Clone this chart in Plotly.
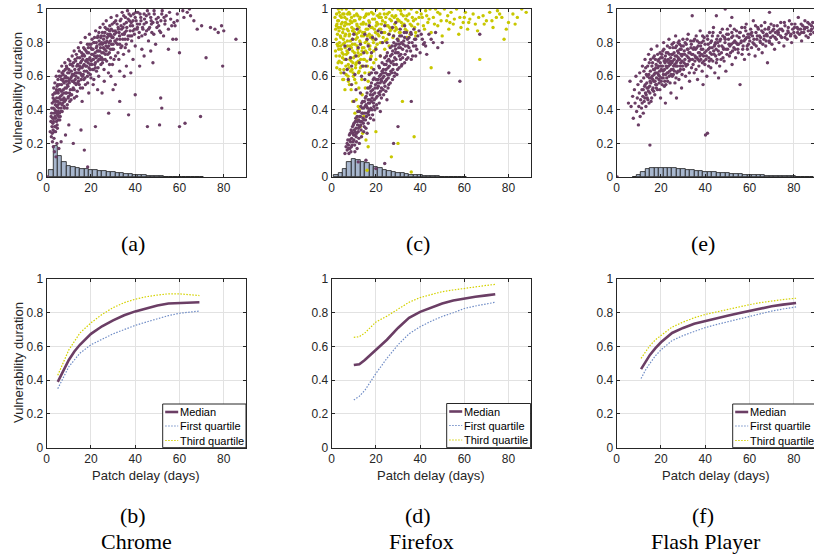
import plotly.graph_objects as go

# ---------------- data ----------------
days_ticks = [0, 20, 40, 60, 80]
dur_ticks = [0, 0.2, 0.4, 0.6, 0.8, 1]
dur_ticktext = ["0", "0.2", "0.4", "0.6", "0.8", "1"]

# histograms (bin centres, bin heights)
chrome_hist_x = [2, 4, 6, 8, 10, 12, 14, 16, 18, 20, 22, 24, 26, 28, 30, 32, 34, 36, 38, 40,
                 42, 44, 46, 48, 50, 52, 54, 56, 58, 60, 62, 64, 66, 68, 70]
chrome_hist_y = [0.042, 0.186, 0.125, 0.087, 0.068, 0.058, 0.053, 0.049, 0.046, 0.043, 0.039,
                 0.036, 0.033, 0.030, 0.027, 0.024, 0.021, 0.018, 0.015, 0.013, 0.011, 0.009,
                 0.007, 0.006, 0.005, 0.004, 0.003, 0.003, 0.002, 0.002, 0.002, 0.001, 0.001,
                 0.001, 0.001]
firefox_hist_x = [2, 4, 6, 8, 10, 12, 14, 16, 18, 20, 22, 24, 26, 28, 30, 32, 34, 36, 38, 40,
                  42, 44, 46, 48, 50, 52, 54, 56, 58, 60]
firefox_hist_y = [0.010, 0.025, 0.045, 0.090, 0.105, 0.103, 0.092, 0.081, 0.071, 0.061, 0.052,
                  0.044, 0.037, 0.031, 0.026, 0.021, 0.017, 0.014, 0.011, 0.009, 0.007, 0.006,
                  0.005, 0.004, 0.003, 0.002, 0.002, 0.001, 0.001, 0.001]
flash_hist_x = [8, 10, 12, 14, 16, 18, 20, 22, 24, 26, 28, 30, 32, 34, 36, 38, 40, 42, 44, 46,
                48, 50, 52, 54, 56, 58, 60, 62, 64, 66, 68, 70, 72, 74, 76, 78, 80, 82, 84, 86, 88]
flash_hist_y = [0.002, 0.010, 0.030, 0.045, 0.052, 0.055, 0.056, 0.055, 0.053, 0.051, 0.049,
                0.046, 0.043, 0.040, 0.037, 0.034, 0.031, 0.029, 0.027, 0.025, 0.023, 0.021,
                0.019, 0.017, 0.015, 0.014, 0.012, 0.011, 0.010, 0.009, 0.008, 0.007, 0.006,
                0.005, 0.005, 0.004, 0.004, 0.003, 0.003, 0.002, 0.002]

# scatter clouds (patch delay, vulnerability duration)
chrome_pts = [
    (1.6,0.27),(1.9,0.33),(2.1,0.24),(2.2,0.38),(2.4,0.30),(2.5,0.44),(2.6,0.21),(2.7,0.35),(2.8,0.49),(2.9,0.28),
    (3.0,0.41),(3.1,0.33),(3.2,0.53),(3.3,0.23),(3.4,0.38),(3.5,0.46),(3.6,0.30),(3.7,0.56),(3.8,0.36),(3.9,0.43),
    (4.0,0.27),(4.1,0.50),(4.2,0.39),(4.3,0.60),(4.4,0.33),(4.5,0.47),(4.6,0.42),(4.7,0.54),(4.8,0.29),(4.9,0.37),
    (5.0,0.45),(5.1,0.58),(5.2,0.50),(5.3,0.34),(5.4,0.41),(5.5,0.63),(5.6,0.47),(5.7,0.38),(5.8,0.55),(5.9,0.44),
    (6.0,0.52),(6.1,0.36),(6.3,0.60),(6.4,0.46),(6.5,0.41),(6.7,0.55),(6.8,0.66),(6.9,0.49),(7.0,0.39),(7.2,0.58),
    (7.3,0.44),(7.5,0.52),(7.6,0.63),(7.8,0.47),(7.9,0.56),(8.0,0.41),(8.2,0.68),(8.3,0.53),(8.5,0.60),(8.6,0.46),
    (8.8,0.57),(9.0,0.50),(9.1,0.65),(9.3,0.43),(9.4,0.59),(9.6,0.54),(9.8,0.70),(9.9,0.48),(10.1,0.62),(10.2,0.56),
    (10.4,0.45),(10.6,0.67),(10.7,0.52),(10.9,0.59),(11.1,0.63),(11.3,0.49),(11.5,0.72),(11.6,0.57),(11.8,0.66),(12.0,0.53),
    (12.2,0.61),(12.4,0.75),(12.5,0.47),(12.7,0.64),(12.9,0.58),(13.1,0.69),(13.3,0.55),(13.4,0.73),(13.6,0.62),(13.8,0.51),
    (14.0,0.67),(14.2,0.59),(14.3,0.77),(14.5,0.64),(14.7,0.55),(14.9,0.71),(15.1,0.62),(15.3,0.68),(15.4,0.80),(15.6,0.58),
    (15.8,0.74),(16.0,0.65),(16.2,0.53),(16.3,0.70),(16.5,0.61),(16.7,0.77),(16.9,0.67),(17.1,0.72),(17.3,0.59),(17.4,0.83),
    (17.6,0.66),(17.8,0.75),(18.0,0.63),(18.2,0.70),(18.4,0.79),(18.5,0.56),(18.7,0.68),(18.9,0.74),(19.1,0.65),(19.3,0.85),
    (19.5,0.71),(19.7,0.61),(19.9,0.77),(20.1,0.69),(20.3,0.73),(20.5,0.82),(20.7,0.64),(20.9,0.76),(21.1,0.70),(21.3,0.58),
    (21.5,0.80),(21.7,0.67),(21.9,0.74),(22.1,0.87),(22.3,0.71),(22.5,0.63),(22.7,0.78),(22.9,0.83),(23.1,0.69),(23.3,0.75),
    (23.5,0.60),(23.7,0.81),(23.9,0.72),(24.1,0.89),(24.3,0.77),(24.5,0.67),(24.7,0.84),(24.9,0.74),(25.1,0.79),(25.3,0.70),
    (25.5,0.91),(25.7,0.82),(25.9,0.64),(26.1,0.76),(26.3,0.86),(26.5,0.73),(26.7,0.80),(26.9,0.93),(27.1,0.69),(27.3,0.83),
    (27.5,0.77),(27.7,0.88),(27.9,0.62),(28.1,0.80),(28.3,0.74),(28.5,0.90),(28.7,0.85),(28.9,0.71),(29.1,0.95),(29.3,0.79),
    (29.5,0.83),(29.7,0.67),(29.9,0.87),(30.2,0.76),(30.5,0.92),(30.8,0.81),(31.1,0.72),(31.4,0.86),(31.7,0.96),(32.0,0.79),
    (32.3,0.89),(32.6,0.70),(32.9,0.84),(33.2,0.93),(33.5,0.77),(33.8,0.88),(34.1,0.98),(34.4,0.82),(34.7,0.73),(35.0,0.91),
    (35.3,0.86),(35.6,0.95),(35.9,0.79),(36.2,0.89),(36.5,0.99),(36.8,0.84),(37.1,0.75),(37.4,0.93),(37.7,0.87),(38.0,0.96),
    (38.4,0.81),(38.8,0.90),(39.2,0.97),(39.6,0.85),(40.0,0.78),(40.4,0.93),(40.8,0.88),(41.2,0.98),(41.6,0.83),(42.0,0.91),
    (42.5,0.95),(43.0,0.76),(43.5,0.88),(44.0,0.97),(44.5,0.85),(45.0,0.92),(45.5,0.99),(46.0,0.81),(46.5,0.89),(47.0,0.95),
    (47.5,0.86),(48.0,0.92),(48.6,0.97),(49.2,0.79),(49.8,0.89),(50.4,0.95),(51.0,0.87),(51.6,0.93),(52.2,0.99),(52.8,0.84),
    (53.4,0.91),(54.0,0.96),(55.0,0.88),(56.0,0.94),(57.0,0.82),(58.0,0.90),(59.0,0.97),(60.0,0.74),
    (61.5,0.99),(63.5,0.98),(65.0,0.96),(66.5,0.93),(68.0,0.88),(70.0,0.90),(72.0,0.71),(74.0,0.89),(76.0,0.88),(77.5,0.86),
    (79.0,0.90),(79.5,0.66),(80.0,0.87),(85.5,0.82),(58.5,0.82),(45.5,0.30),(51.0,0.31),(52.0,0.41),(51.5,0.47),(60.0,0.30),
    (62.5,0.32),(69.5,0.36),(37.0,0.37),(40.0,0.49),(28.0,0.38),(17.0,0.16),(12.0,0.20),(18.5,0.06),(0.3,0.0),(22.0,0.30),
    (33.0,0.45),(15.5,0.28),(10.0,0.31),(8.5,0.25),(6.5,0.21),(25.0,0.50),(31.0,0.55),(35.0,0.60),(42.0,0.66),(55.0,0.76),
]
chrome_core_pts = [
    (2.3,0.41),(2.8,0.32),(3.2,0.45),(3.4,0.27),(3.7,0.40),(4.1,0.35),(4.4,0.52),(4.7,0.31),(5.0,0.55),(5.2,0.39),
    (5.6,0.52),(5.9,0.34),(6.2,0.48),(6.6,0.58),(6.9,0.43),(7.4,0.61),(7.7,0.50),(8.1,0.45),(8.4,0.64),(8.9,0.53),
    (9.2,0.41),(9.5,0.62),(9.9,0.57),(10.3,0.50),(10.5,0.69),(11.0,0.46),(11.4,0.60),(11.7,0.52),(12.1,0.68),(12.6,0.56),
    (13.0,0.62),(13.5,0.48),(13.9,0.71),(14.4,0.57),(14.8,0.66),(15.2,0.53),(15.7,0.69),(16.1,0.60),(16.6,0.73),(17.0,0.63),
    (17.5,0.55),(17.9,0.69),(18.3,0.74),(18.8,0.62),(19.2,0.79),(19.6,0.67),(20.0,0.59),(20.4,0.76),(20.8,0.70),(21.2,0.64),
    (21.6,0.83),(22.0,0.68),(22.4,0.77),(22.8,0.72),(23.2,0.65),(23.6,0.86),(24.0,0.75),(24.4,0.70),(24.8,0.80),(25.2,0.68),
    (25.6,0.77),(26.0,0.84),(26.4,0.70),(26.8,0.78),(27.2,0.88),(27.6,0.73),(28.0,0.84),(28.4,0.67),(28.8,0.81),(29.2,0.88),
    (29.6,0.76),(30.0,0.83),(30.4,0.70),(30.9,0.87),(31.3,0.80),(31.8,0.91),(32.2,0.74),(32.7,0.86),(33.1,0.82),(33.6,0.94),
    (34.0,0.78),(34.5,0.89),(35.0,0.85),(35.5,0.77),(36.0,0.92),(36.6,0.82),(37.2,0.97),(37.8,0.90),(38.4,0.84),(39.0,0.93),
    (39.7,0.88),(40.3,0.98),(41.0,0.91),(41.8,0.86),(42.6,0.93),(43.3,0.89),(44.2,0.94),(45.1,0.87),(46.2,0.97),(47.3,0.91),
    (48.4,0.85),(49.5,0.94),(50.6,0.90),(52.0,0.97),(53.5,0.93),(55.5,0.98),(57.5,0.92),
    (3.5,0.15),(4.2,0.12),(3.0,0.18),(4.6,0.20),(5.5,0.17),
    (2.0,0.36),(2.5,0.26),(2.9,0.47),(3.3,0.35),(3.6,0.50),(3.9,0.30),(4.2,0.45),(4.5,0.38),(4.8,0.51),(5.1,0.43),
    (5.4,0.36),(5.7,0.60),(6.0,0.44),(6.3,0.39),(6.6,0.51),(6.9,0.62),(7.2,0.46),(7.5,0.57),(7.9,0.42),(8.2,0.59),
    (8.6,0.50),(8.9,0.66),(9.3,0.55),(9.7,0.47),(10.0,0.64),(10.4,0.58),(10.8,0.49),(11.2,0.67),(11.6,0.61),(12.0,0.57),
    (12.4,0.52),(12.8,0.70),(13.2,0.60),(13.6,0.66),(14.0,0.56),(14.4,0.62),(14.8,0.75),(15.2,0.65),(15.6,0.61),(16.0,0.72),
    (16.4,0.66),(16.8,0.58),(17.2,0.76),(17.6,0.69),(18.0,0.66),(18.4,0.60),(18.8,0.77),(19.2,0.70),(19.6,0.64),(20.0,0.79),
    (20.4,0.67),(20.8,0.73),(21.2,0.80),(21.6,0.72),(22.0,0.65),(22.4,0.80),(22.8,0.75),(23.2,0.84),(23.6,0.70),(24.0,0.79),
    (24.4,0.83),(24.8,0.71),(25.2,0.86),(25.6,0.74),(26.0,0.80),(26.4,0.89),(26.8,0.75),(27.2,0.81),(27.6,0.85),(28.0,0.78),
    (28.4,0.87),(28.8,0.76),(29.2,0.84),(29.6,0.91),(30.0,0.79),(30.6,0.85),(31.2,0.93),(31.8,0.82),(32.4,0.88),(33.0,0.79),
    (33.6,0.90),(34.2,0.85),(34.8,0.96),(35.4,0.82),(36.0,0.87),(36.8,0.94),(37.6,0.84),(38.2,0.92),(39.0,0.87),(40.0,0.95),
    (41.0,0.89),(42.2,0.97),(43.0,0.84),(44.0,0.91),(45.0,0.96),(46.0,0.88),(47.2,0.93),(48.5,0.99),(50.0,0.92),(51.5,0.86),
    (53.0,0.95),(56.5,0.90),(59.0,0.93),(62.0,0.95),(64.5,1.0),
    (16.0,0.45),(19.0,0.50),(23.0,0.52),(26.0,0.57),(29.0,0.60),(33.0,0.63),(36.0,0.66),(39.0,0.70),(44.0,0.72),(47.0,0.75),
    (21.0,0.55),(30.0,0.52),(38.0,0.62),(48.0,0.68),
]

firefox_purple_pts = [
    (6.0,0.14),(6.5,0.18),(7.0,0.16),(7.3,0.22),(7.6,0.19),(8.0,0.25),(8.2,0.17),(8.5,0.21),(8.8,0.28),(9.0,0.23),
    (9.2,0.19),(9.5,0.26),(9.8,0.31),(10.0,0.22),(10.2,0.28),(10.5,0.25),(10.7,0.33),(11.0,0.29),(11.2,0.21),(11.5,0.36),
    (11.7,0.31),(12.0,0.27),(12.2,0.34),(12.5,0.39),(12.7,0.30),(13.0,0.36),(13.2,0.42),(13.5,0.33),(13.7,0.38),(14.0,0.45),
    (14.2,0.35),(14.5,0.41),(14.7,0.30),(15.0,0.38),(15.2,0.47),(15.5,0.43),(15.7,0.36),(16.0,0.50),(16.2,0.41),(16.5,0.46),
    (16.7,0.39),(17.0,0.53),(17.2,0.44),(17.5,0.49),(17.7,0.41),(18.0,0.56),(18.3,0.47),(18.6,0.52),(18.9,0.44),(19.2,0.59),
    (19.5,0.50),(19.8,0.55),(20.1,0.47),(20.4,0.62),(20.7,0.53),(21.0,0.58),(21.3,0.50),(21.6,0.65),(21.9,0.56),(22.2,0.61),
    (22.5,0.53),(22.8,0.68),(23.1,0.59),(23.4,0.64),(23.7,0.56),(24.0,0.71),(24.3,0.62),(24.6,0.67),(24.9,0.58),(25.2,0.74),
    (25.5,0.65),(25.8,0.70),(26.1,0.61),(26.5,0.77),(26.9,0.68),(27.3,0.73),(27.7,0.64),(28.1,0.80),(28.5,0.71),(28.9,0.76),
    (29.3,0.67),(29.7,0.82),(30.1,0.74),(30.6,0.79),(31.1,0.70),(31.6,0.84),(32.1,0.76),(32.6,0.81),(33.2,0.73),(33.8,0.86),
    (34.4,0.78),(35.0,0.83),(35.7,0.75),(36.4,0.80),(37.2,0.88),(38.0,0.78),(39.0,0.84),(40.0,0.74),(41.0,0.82),(42.5,0.78),
    (44.0,0.85),(46.0,0.80),(48.0,0.77),
    (5.5,0.62),(6.5,0.70),(7.5,0.58),(8.0,0.76),(9.0,0.66),(9.5,0.82),(10.5,0.61),(11.0,0.72),(11.5,0.88),(12.5,0.68),
    (13.0,0.79),(13.5,0.60),(14.5,0.74),(15.0,0.85),(15.5,0.66),(16.5,0.78),(17.0,0.90),(17.5,0.70),(18.5,0.83),(19.0,0.64),
    (20.0,0.76),(21.0,0.87),(22.0,0.72),(23.0,0.80),(24.0,0.90),(26.0,0.85),(27.5,0.89),(29.0,0.92),(31.0,0.88),(13.0,0.50),
    (10.0,0.45),(18.0,0.62),
    (53.0,0.62),(58.0,0.57),(67.0,0.85),(20.0,0.05),(15.5,0.10),(24.0,0.08),(30.0,0.30),(36.0,0.45),(28.0,0.20),(12.0,0.09),
]
firefox_purple_core_pts = [
    (7.0,0.20),(7.8,0.14),(8.4,0.26),(8.9,0.18),(9.4,0.30),(9.9,0.25),(10.4,0.19),(10.9,0.35),(11.3,0.26),(11.8,0.39),
    (12.3,0.23),(12.8,0.33),(13.3,0.28),(13.8,0.41),(14.3,0.32),(14.8,0.45),(15.3,0.34),(15.8,0.42),(16.3,0.53),(16.8,0.37),
    (17.3,0.46),(17.8,0.51),(18.3,0.40),(18.8,0.58),(19.3,0.46),(19.8,0.62),(20.3,0.43),(20.8,0.56),(21.3,0.66),(21.8,0.49),
    (22.3,0.58),(22.8,0.63),(23.3,0.52),(23.8,0.67),(24.3,0.57),(24.8,0.72),(25.3,0.61),(25.8,0.55),(26.3,0.69),(26.8,0.63),
    (27.3,0.78),(27.8,0.69),(28.3,0.60),(28.8,0.74),(29.3,0.79),(29.8,0.64),(30.3,0.77),(30.8,0.84),(31.3,0.73),(31.8,0.67),
    (32.3,0.79),(32.8,0.86),(33.3,0.78),(33.8,0.70),(34.3,0.82),(35.0,0.77),(35.8,0.86),(36.6,0.72),(37.5,0.82),(38.5,0.76),
    (39.5,0.87),(41.5,0.79),(43.0,0.73),(45.0,0.82),(47.0,0.86),(50.0,0.80),
    (6.0,0.78),(7.0,0.64),(8.5,0.71),(10.0,0.85),(12.0,0.77),(14.0,0.66),(16.0,0.82),(18.0,0.74),(20.0,0.82),(22.5,0.86),
    (25.0,0.80),(28.0,0.84),(33.0,0.90),(9.0,0.55),(11.0,0.52),(15.0,0.58),(17.0,0.61),
    (7.5,0.17),(8.1,0.22),(8.7,0.15),(9.1,0.27),(9.7,0.21),(10.1,0.32),(10.6,0.27),(11.1,0.24),(11.6,0.33),(12.1,0.29),
    (12.6,0.36),(13.1,0.31),(13.6,0.44),(14.1,0.38),(14.6,0.34),(15.1,0.42),(15.6,0.48),(16.1,0.38),(16.6,0.44),(17.1,0.40),
    (17.6,0.54),(18.1,0.45),(18.6,0.49),(19.1,0.42),(19.6,0.53),(20.1,0.58),(20.6,0.48),(21.1,0.54),(21.6,0.60),(22.1,0.51),
    (22.6,0.57),(23.1,0.62),(23.6,0.60),(24.1,0.54),(24.6,0.64),(25.1,0.69),(25.6,0.59),(26.1,0.66),(26.6,0.72),(27.1,0.62),
    (27.6,0.75),(28.1,0.67),(28.6,0.78),(29.1,0.70),(29.6,0.74),(30.1,0.81),(30.6,0.72),(31.1,0.77),(31.6,0.80),(32.1,0.71),
    (33.0,0.83),(34.0,0.75),(35.0,0.80),(36.0,0.85),(37.0,0.78),(38.0,0.82),(40.5,0.85),(42.0,0.80),
    (12.5,0.20),(13.5,0.24),(14.5,0.27),(15.5,0.29),(16.5,0.32),(17.5,0.35),(18.5,0.37),(19.5,0.40),(20.5,0.41),(21.5,0.44),
    (22.5,0.47),(23.5,0.49),(24.5,0.51),(25.5,0.53),(26.5,0.56),(27.5,0.58),(28.5,0.62),(29.5,0.61),(30.5,0.65),(31.5,0.66),
    (33.0,0.68),(34.5,0.71),(36.0,0.70),(38.0,0.72),(16.0,0.26),(19.0,0.34),(22.0,0.39),(25.0,0.46),(11.5,0.17),(10.5,0.15),
]

firefox_yellow_pts = [
    (1.5,0.95),(1.8,0.88),(2.0,0.82),(2.2,0.97),(2.4,0.91),(2.6,0.85),(2.8,0.78),(3.0,1.0),(3.1,0.93),(3.3,0.87),
    (3.5,0.80),(3.6,0.72),(3.8,0.96),(4.0,0.89),(4.1,0.83),(4.3,0.76),(4.5,0.68),(4.6,1.0),(4.8,0.92),(5.0,0.86),
    (5.1,0.79),(5.3,0.73),(5.5,0.64),(5.6,0.97),(5.8,0.90),(6.0,0.84),(6.1,0.77),(6.3,0.70),(6.5,0.61),(6.6,1.0),
    (6.8,0.94),(7.0,0.88),(7.1,0.81),(7.3,0.74),(7.5,0.67),(7.6,0.57),(7.8,0.98),(8.0,0.91),(8.1,0.85),(8.3,0.78),
    (8.5,0.71),(8.6,0.63),(8.8,0.52),(9.0,0.95),(9.1,0.89),(9.3,0.82),(9.5,0.75),(9.6,0.68),(9.8,0.60),(10.0,1.0),
    (10.1,0.93),(10.3,0.86),(10.5,0.79),(10.6,0.72),(10.8,0.65),(11.0,0.56),(11.1,0.46),(11.3,0.97),(11.5,0.90),(11.6,0.83),
    (11.8,0.76),(12.0,0.69),(12.1,0.62),(12.3,0.53),(12.5,0.40),(12.6,0.94),(12.8,0.87),(13.0,0.80),(13.2,0.73),(13.4,0.66),
    (13.6,0.58),(13.8,0.49),(14.0,1.0),(14.2,0.91),(14.4,0.84),(14.6,0.77),(14.8,0.70),(15.0,0.62),(15.2,0.53),(15.4,0.96),
    (15.6,0.88),(15.8,0.81),(16.0,0.74),(16.2,0.66),(16.5,0.57),(16.8,0.93),(17.0,0.85),(17.3,0.78),(17.6,0.71),(18.0,0.98),
    (18.3,0.89),(18.6,0.82),(19.0,0.75),(19.4,0.94),(19.8,0.86),(20.2,1.0),(20.6,0.79),(21.0,0.91),(21.4,0.84),(21.8,0.97),
    (22.2,0.88),(22.6,0.80),(23.0,0.93),(23.5,1.0),(24.0,0.86),(24.5,0.95),(25.0,0.82),(25.5,0.90),(26.0,0.98),(26.5,0.87),
    (27.0,0.93),(27.5,1.0),(28.0,0.84),(28.5,0.91),(29.0,0.96),(29.5,0.88),(30.0,1.0),(30.5,0.93),(31.0,0.86),(31.5,0.97),
    (32.0,0.90),(33.0,1.0),(33.5,0.94),(34.0,0.87),(35.0,0.97),(35.5,0.91),(36.0,1.0),(37.0,0.93),(38.0,0.86),(38.5,0.98),
    (39.0,0.91),(40.0,1.0),(41.0,0.95),(42.0,0.88),(42.5,0.99),(43.5,0.92),(44.5,1.0),(45.0,0.86),(46.0,0.95),(47.0,1.0),
    (48.0,0.90),(49.0,0.97),(50.0,0.84),(51.0,1.0),(52.0,0.93),(53.0,0.88),(54.0,0.98),(55.0,0.91),(56.5,1.0),(57.5,0.85),
    (58.0,0.95),(59.5,0.92),(60.5,0.98),(61.5,0.88),(62.5,0.94),(64.0,0.97),(65.0,0.91),(66.0,0.87),(67.0,0.70),(68.5,0.96),
    (70.0,0.93),(71.5,0.98),(73.0,0.89),(74.5,0.95),(76.0,0.97),(78.0,0.82),(79.0,0.88),(80.0,0.92),(82.0,0.97),(84.0,0.95),
    (86.0,1.0),(88.0,0.98),
    (18.0,0.65),(20.0,0.70),(22.0,0.72),(24.0,0.76),(26.0,0.78),(30.0,0.82),(34.0,0.83),(38.0,0.84),(17.0,0.62),(19.0,0.68),
    (9.5,0.45),(10.5,0.38),(11.5,0.34),(13.0,0.30),(14.0,0.26),(15.5,0.22),(16.5,0.18),(12.0,0.42),(14.5,0.36),(8.0,0.55),
    (6.0,0.52),(5.0,0.58),
    (36.0,0.03),(37.3,0.24),(27.0,0.12),(16.0,0.04),(30.0,0.20),(32.0,0.45),(45.0,0.65),(20.0,0.27),
]
firefox_yellow_core_pts = [
    (2.0,0.72),(2.3,0.65),(2.7,0.93),(3.2,0.76),(3.4,0.69),(3.9,0.84),(4.2,0.62),(4.4,0.95),(4.9,0.71),(5.2,0.88),
    (5.4,0.58),(5.9,0.80),(6.2,0.92),(6.4,0.66),(6.9,0.75),(7.2,0.97),(7.4,0.60),(7.9,0.84),(8.2,0.70),(8.4,0.93),
    (8.9,0.77),(9.2,0.64),(9.4,0.87),(9.9,0.71),(10.2,0.96),(10.4,0.58),(10.9,0.82),(11.2,0.68),(11.4,0.91),(11.9,0.74),
    (12.2,0.86),(12.4,0.63),(12.9,0.95),(13.1,0.70),(13.5,0.84),(13.9,0.77),(14.3,0.92),(14.5,0.66),(14.9,0.86),(15.3,0.75),
    (15.7,0.97),(16.1,0.84),(16.6,0.79),(17.1,0.92),(17.5,0.83),(17.9,0.72),(18.5,0.94),(18.9,0.80),(19.3,0.88),(19.9,0.77),
    (20.4,0.92),(20.9,0.85),(21.5,0.95),(22.0,0.80),(22.5,0.91),(23.2,0.86),(23.8,0.97),(24.3,0.81),(25.0,0.90),(25.7,0.85),
    (26.3,0.94),(27.0,0.88),(27.7,0.83),(28.3,0.95),(29.0,0.89),(29.8,0.94),(30.6,0.86),(31.5,0.92),(32.4,0.96),(33.3,0.88),
    (34.5,0.93),(35.5,0.85),(36.5,0.95),(37.5,0.89),(39.5,0.95),(41.5,0.90),(43.0,0.96),(46.5,0.91),(49.5,0.93),(52.5,0.96),
    (55.5,0.94),(58.5,0.89),(62.0,0.92),(66.5,0.95),(72.5,0.93),(77.0,0.95),(83.0,0.91),
    (1.7,0.75),(2.1,0.90),(2.5,0.79),(2.9,0.68),(3.0,0.89),(3.4,0.98),(3.7,0.64),(4.0,0.78),(4.3,0.91),(4.7,0.74),
    (5.0,0.97),(5.3,0.82),(5.7,0.70),(5.9,0.95),(6.3,0.85),(6.6,0.73),(6.9,0.91),(7.2,0.78),(7.5,0.87),(7.8,0.65),
    (8.2,0.97),(8.5,0.81),(8.8,0.69),(9.1,0.92),(9.4,0.79),(9.7,0.62),(10.0,0.88),(10.3,0.74),(10.6,0.93),(10.9,0.67),
    (11.2,0.85),(11.5,0.78),(11.8,0.96),(12.1,0.72),(12.4,0.89),(12.7,0.81),(13.0,0.65),(13.3,0.91),(13.7,0.75),(14.0,0.86),
    (14.4,0.70),(14.7,0.95),(15.1,0.80),(15.5,0.91),(15.9,0.69),(16.3,0.88),(16.7,0.97),(17.2,0.76),(17.7,0.89),(18.2,0.84),
    (18.8,0.97),(19.5,0.82),(20.1,0.90),(20.8,0.96),(21.6,0.88),(22.4,0.95),(23.3,0.83),(24.2,0.92),(25.2,0.97),(26.2,0.89),
    (27.3,0.96),(28.6,0.87),(30.0,0.93),(31.2,0.99),(32.7,0.91),(34.0,0.96),(36.2,0.90),(38.0,0.94),(40.5,0.97),(44.0,0.94),
    (48.0,0.98),(53.5,0.92),(60.0,0.95),(69.0,0.91),(75.0,0.99),
]

flash_pts = [
    (5.3,0.44),(6.0,0.57),(6.5,0.42),(7.2,0.48),(7.5,0.35),(8.0,0.52),(8.3,0.44),(8.7,0.60),(9.0,0.39),(9.3,0.47),
    (9.6,0.55),(9.8,0.31),(10.0,0.42),(10.2,0.50),(10.4,0.62),(10.6,0.36),(10.8,0.46),(11.0,0.57),(11.2,0.41),(11.4,0.52),
    (11.6,0.66),(11.8,0.48),(12.0,0.38),(12.2,0.59),(12.4,0.45),(12.6,0.54),(12.8,0.70),(13.0,0.50),(13.2,0.42),(13.4,0.61),
    (13.6,0.56),(13.8,0.47),(14.0,0.66),(14.2,0.53),(14.4,0.73),(14.6,0.44),(14.8,0.59),(15.0,0.50),(15.2,0.63),(15.4,0.56),
    (15.6,0.76),(15.8,0.47),(16.0,0.60),(16.2,0.68),(16.4,0.53),(16.6,0.64),(16.8,0.57),(17.0,0.72),(17.2,0.49),(17.4,0.62),
    (17.6,0.55),(17.8,0.67),(18.0,0.59),(18.2,0.78),(18.4,0.52),(18.6,0.65),(18.8,0.61),(19.0,0.70),(19.2,0.56),(19.4,0.63),
    (19.6,0.74),(19.8,0.47),(20.0,0.66),(20.3,0.59),(20.6,0.71),(20.9,0.63),(21.2,0.80),(21.5,0.54),(21.8,0.68),(22.1,0.61),
    (22.4,0.74),(22.7,0.65),(23.0,0.57),(23.3,0.70),(23.6,0.82),(23.9,0.63),(24.2,0.67),(24.5,0.50),(24.8,0.73),(25.1,0.60),
    (25.4,0.77),(25.7,0.66),(26.0,0.70),(26.3,0.56),(26.6,0.84),(26.9,0.68),(27.2,0.62),(27.5,0.75),(27.8,0.71),(28.1,0.58),
    (28.4,0.79),(28.7,0.66),(29.0,0.73),(29.3,0.53),(29.6,0.69),(29.9,0.82),(30.2,0.64),(30.5,0.75),(30.8,0.70),(31.1,0.60),
    (31.4,0.79),(31.7,0.72),(32.0,0.67),(32.3,0.85),(32.6,0.74),(32.9,0.57),(33.2,0.70),(33.5,0.77),(33.8,0.65),(34.1,0.96),
    (34.4,0.73),(34.7,0.81),(35.0,0.62),(35.3,0.69),(35.6,0.76),(35.9,0.84),(36.2,0.71),(36.5,0.58),(36.8,0.78),(37.1,0.66),
    (37.4,0.74),(37.7,0.87),(38.0,0.70),(38.3,0.80),(38.6,0.63),(38.9,0.76),(39.2,0.72),(39.5,0.83),(39.8,0.67),(40.1,0.25),
    (41.0,0.26),(40.4,0.75),(40.7,0.60),(41.3,0.79),(41.6,0.71),(41.9,0.86),(42.2,0.74),(42.5,0.65),(42.8,0.81),(43.1,0.77),
    (43.4,0.69),(43.7,0.89),(44.0,0.73),(44.3,0.62),(44.6,0.80),(44.9,0.76),(45.3,0.70),(45.7,0.84),(46.1,0.78),(46.5,0.66),
    (46.9,0.82),(47.3,0.74),(47.7,0.88),(48.1,0.77),(48.5,0.69),(48.9,0.80),(49.3,0.63),(49.7,0.85),(50.1,0.76),(50.5,0.82),
    (50.9,0.72),(51.3,0.90),(51.7,0.79),(52.1,0.67),(52.5,0.84),(52.9,0.77),(53.3,0.81),(53.7,0.71),(54.1,0.87),(54.5,0.79),
    (54.9,0.74),(55.3,0.83),(55.7,0.55),(56.1,0.80),(56.5,0.89),(56.9,0.76),(57.3,0.84),(57.7,0.70),(58.1,0.82),(58.5,0.91),
    (58.9,0.78),(59.3,0.85),(59.7,0.73),(60.1,0.81),(60.5,0.88),(60.9,0.77),(61.3,0.84),(61.7,0.93),(62.1,0.79),(62.5,0.72),
    (62.9,0.86),(63.3,0.82),(63.7,0.89),(64.1,0.76),(64.5,0.84),(64.9,0.80),(65.3,0.90),(65.7,0.74),(66.1,0.86),(66.5,0.82),
    (66.9,0.92),(67.3,0.78),(67.7,0.85),(68.1,0.68),(68.5,0.88),(68.9,0.81),(69.3,0.86),(69.7,0.91),(70.1,0.79),(70.5,0.84),
    (70.9,0.88),(71.3,0.76),(71.7,0.86),(72.1,0.82),(72.5,0.90),(72.9,0.85),(73.3,0.80),(73.7,0.88),(74.1,0.92),(74.5,0.83),
    (75.0,0.87),(75.5,0.78),(76.0,0.90),(76.5,0.85),(77.0,0.82),(77.5,0.89),(78.0,0.93),(78.5,0.84),(79.0,0.80),(79.5,0.88),
    (80.0,0.86),(80.5,0.91),(81.0,0.83),(81.5,0.89),(82.0,0.95),(82.5,0.85),(83.0,0.88),(83.5,0.81),(84.0,0.90),(84.5,0.86),
    (85.0,0.93),(85.5,0.84),(86.0,0.89),(86.5,0.87),(87.0,0.91),(87.5,0.85),(88.0,0.88),(88.5,0.92),(89.0,0.86),
    (15.0,0.19),(0.2,0.0),(49.0,1.0),(69.0,0.98),(52.0,0.95),(39.0,0.55),(46.0,0.59),(22.0,0.44),(27.0,0.47),(45.0,0.96),
]
flash_core_pts = [
    (11.5,0.44),(12.3,0.63),(12.9,0.55),(13.3,0.49),(13.9,0.60),(14.3,0.51),(14.7,0.68),(15.1,0.57),(15.5,0.45),(15.9,0.66),
    (16.3,0.58),(16.7,0.51),(17.1,0.64),(17.5,0.70),(17.9,0.53),(18.3,0.62),(18.7,0.69),(19.1,0.58),(19.5,0.52),(19.9,0.71),
    (20.2,0.64),(20.5,0.55),(20.8,0.75),(21.1,0.61),(21.4,0.69),(21.7,0.57),(22.0,0.72),(22.3,0.66),(22.6,0.59),(22.9,0.78),
    (23.2,0.62),(23.5,0.68),(23.8,0.73),(24.1,0.56),(24.4,0.71),(24.7,0.64),(25.0,0.79),(25.3,0.69),(25.6,0.61),(25.9,0.74),
    (26.2,0.67),(26.5,0.77),(26.8,0.59),(27.1,0.72),(27.4,0.66),(27.7,0.80),(28.0,0.70),(28.3,0.63),(28.6,0.76),(28.9,0.68),
    (29.2,0.78),(29.5,0.61),(29.8,0.73),(30.4,0.68),(30.9,0.80),(31.3,0.66),(31.9,0.76),(32.4,0.71),(32.8,0.62),(33.4,0.81),
    (33.9,0.73),(34.5,0.67),(34.9,0.77),(35.4,0.72),(35.8,0.64),(36.4,0.81),(36.9,0.74),(37.3,0.69),(37.9,0.78),(38.4,0.73),
    (38.8,0.84),(39.4,0.69),(39.9,0.79),(40.5,0.72),(41.1,0.82),(41.5,0.66),(42.0,0.77),(42.6,0.70),(43.2,0.84),(43.8,0.75),
    (44.4,0.79),(45.0,0.68),(45.6,0.80),(46.3,0.73),(46.8,0.86),(47.5,0.78),(48.0,0.71),(48.7,0.83),(49.4,0.76),(50.0,0.88),
    (50.7,0.79),(51.4,0.74),(52.0,0.86),(52.7,0.80),(53.5,0.76),(54.3,0.84),(55.0,0.79),(55.8,0.86),(56.6,0.73),(57.5,0.81),
    (58.3,0.87),(59.0,0.76),(59.8,0.83),(61.0,0.86),(62.0,0.82),(63.0,0.78),(64.0,0.88),(65.0,0.83),(66.0,0.79),(67.0,0.88),
    (68.0,0.84),(69.0,0.80),(70.3,0.87),(71.5,0.83),(73.0,0.86),(74.5,0.88),(76.0,0.83),(77.5,0.86),(79.0,0.91),(80.5,0.84),
    (82.0,0.88),(83.5,0.86),(85.0,0.89),(86.5,0.83),(88.0,0.90),
    (12.0,0.52),(12.7,0.47),(13.1,0.65),(13.7,0.53),(14.1,0.46),(14.5,0.61),(14.9,0.54),(15.3,0.70),(15.7,0.59),(16.1,0.52),
    (16.5,0.71),(16.9,0.61),(17.3,0.57),(17.7,0.65),(18.1,0.55),(18.5,0.73),(18.9,0.66),(19.3,0.60),(19.7,0.68),(20.1,0.57),
    (20.4,0.73),(20.7,0.66),(21.0,0.59),(21.3,0.76),(21.6,0.64),(21.9,0.70),(22.2,0.55),(22.5,0.69),(22.8,0.62),(23.1,0.74),
    (23.4,0.66),(23.7,0.60),(24.0,0.77),(24.3,0.69),(24.6,0.61),(24.9,0.68),(25.2,0.73),(25.5,0.64),(25.8,0.80),(26.1,0.63),
    (26.4,0.72),(26.7,0.66),(27.0,0.78),(27.3,0.69),(27.6,0.63),(27.9,0.74),(28.2,0.81),(28.5,0.70),(28.8,0.64),(29.1,0.76),
    (29.4,0.72),(29.7,0.66),(30.1,0.78),(30.7,0.73),(31.2,0.67),(31.8,0.82),(32.2,0.76),(32.7,0.69),(33.1,0.74),(33.7,0.79),
    (34.2,0.70),(34.6,0.76),(35.2,0.82),(35.7,0.71),(36.1,0.77),(36.7,0.70),(37.2,0.80),(37.6,0.72),(38.2,0.76),(38.7,0.68),
    (39.1,0.81),(39.7,0.74),(40.3,0.70),(40.9,0.84),(41.4,0.76),(41.8,0.69),(42.4,0.80),(42.9,0.73),(43.5,0.86),(44.1,0.78),
    (44.7,0.72),(45.2,0.82),(45.9,0.75),(46.6,0.81),(47.1,0.70),(47.9,0.84),(48.3,0.76),(49.0,0.82),(49.8,0.73),(50.4,0.85),
    (51.1,0.78),(51.9,0.83),(52.3,0.75),(53.1,0.88),(53.9,0.80),(54.7,0.76),(55.5,0.86),(56.3,0.81),(57.1,0.78),(57.9,0.89),
    (58.7,0.83),(59.5,0.79),(60.3,0.85),(61.5,0.80),(62.7,0.90),(63.5,0.84),(64.7,0.81),(65.5,0.87),(66.7,0.84),(67.5,0.81),
    (68.7,0.89),(69.5,0.83),(71.0,0.90),(72.7,0.87),(74.0,0.84),(75.7,0.92),(77.3,0.87),(78.7,0.85),(80.3,0.89),(81.7,0.86),
    (83.3,0.91),(84.7,0.88),(86.3,0.92),(87.7,0.87),(89.3,0.89),
]

# quartile curves
chrome_days = [5, 7.5, 10, 12.5, 15, 20, 25, 30, 35, 40, 45, 50, 55, 60, 65, 69]
chrome_median = [0.39, 0.46, 0.52, 0.57, 0.61, 0.675, 0.72, 0.755, 0.785, 0.808, 0.827, 0.843, 0.855, 0.857, 0.86, 0.862]
chrome_q1 = [0.35, 0.42, 0.48, 0.52, 0.56, 0.61, 0.645, 0.675, 0.70, 0.725, 0.745, 0.765, 0.783, 0.797, 0.803, 0.81]
chrome_q3 = [0.43, 0.51, 0.58, 0.63, 0.68, 0.74, 0.79, 0.83, 0.86, 0.88, 0.895, 0.905, 0.912, 0.912, 0.905, 0.902]

firefox_days = [10, 12.5, 15, 17.5, 20, 25, 30, 35, 40, 45, 50, 55, 60, 65, 70, 74]
firefox_median = [0.49, 0.495, 0.52, 0.55, 0.575, 0.64, 0.71, 0.77, 0.805, 0.832, 0.855, 0.872, 0.885, 0.895, 0.903, 0.91]
firefox_q1 = [0.283, 0.305, 0.34, 0.39, 0.44, 0.53, 0.61, 0.675, 0.717, 0.75, 0.778, 0.80, 0.825, 0.84, 0.853, 0.862]
firefox_q3 = [0.654, 0.658, 0.68, 0.71, 0.745, 0.78, 0.82, 0.862, 0.89, 0.908, 0.925, 0.935, 0.945, 0.955, 0.962, 0.968]

flash_days = [11, 13, 15, 17.5, 20, 25, 30, 35, 40, 45, 50, 55, 60, 65, 70, 75, 81]
flash_median = [0.466, 0.51, 0.55, 0.59, 0.625, 0.68, 0.71, 0.735, 0.752, 0.768, 0.782, 0.797, 0.812, 0.826, 0.838, 0.848, 0.858]
flash_q1 = [0.41, 0.46, 0.50, 0.545, 0.58, 0.635, 0.665, 0.69, 0.712, 0.73, 0.746, 0.762, 0.778, 0.795, 0.81, 0.822, 0.835]
flash_q3 = [0.53, 0.57, 0.605, 0.64, 0.665, 0.715, 0.745, 0.77, 0.79, 0.805, 0.82, 0.835, 0.848, 0.86, 0.87, 0.878, 0.886]

legend_labels = ["Median", "First quartile", "Third quartile"]
captions_top = ["(a)", "(c)", "(e)"]
captions_bottom = ["(b)", "(d)", "(f)"]
browsers = ["Chrome", "Firefox", "Flash Player"]

# ---------------- styling ----------------
W, H = 814, 556
PURPLE = "#6b3e65"
YELLOW = "#c8c700"
Q1_COL = "#6f8cc6"
Q3_COL = "#d4d200"
BAR_FILL = "#a7b6cd"
SANS = "Liberation Sans, Arial, Helvetica, sans-serif"
SERIF = "Liberation Serif, Times New Roman, serif"
AX_COL = "#262626"
MSIZE = 3.4

def px_x(p):
    return p / W

def px_y(p):
    return 1 - p / H

col_dom = [[px_x(46.7), px_x(245.9)], [px_x(331.7), px_x(530.6)], [px_x(616.7), 1.0]]
col_range = [[0, 90], [0, 90], [0, 89.1]]
row_dom = [[px_y(177), px_y(9)], [px_y(447.7), px_y(279)]]

fig = go.Figure()

def xy(pts):
    return [p[0] for p in pts], [p[1] for p in pts]

hists = [(chrome_hist_x, chrome_hist_y), (firefox_hist_x, firefox_hist_y), (flash_hist_x, flash_hist_y)]
for i, (hx, hy) in enumerate(hists):
    ax = "" if i == 0 else str(i + 1)
    fig.add_trace(go.Bar(x=hx, y=hy, width=2, marker=dict(color=BAR_FILL, line=dict(color="#1a1a1a", width=0.8)),
                         xaxis="x" + ax, yaxis="y" + ax, showlegend=False))

def add_cloud(pts, color, ax):
    x, y = xy(pts)
    fig.add_trace(go.Scatter(x=x, y=y, mode="markers", marker=dict(size=MSIZE, color=color, line=dict(width=0)),
                             xaxis="x" + ax, yaxis="y" + ax, showlegend=False))

add_cloud(chrome_pts + chrome_core_pts, PURPLE, "")
add_cloud(firefox_yellow_pts + firefox_yellow_core_pts, YELLOW, "2")
add_cloud(firefox_purple_pts + firefox_purple_core_pts, PURPLE, "2")
add_cloud(flash_pts + flash_core_pts, PURPLE, "3")

# quartile curves
curves = [(chrome_days, chrome_median, chrome_q1, chrome_q3),
          (firefox_days, firefox_median, firefox_q1, firefox_q3),
          (flash_days, flash_median, flash_q1, flash_q3)]
line_styles = [dict(color=PURPLE, width=2.6),
               dict(color=Q1_COL, width=1.2, dash="1.5px,1.5px"),
               dict(color=Q3_COL, width=1.2, dash="1.5px,1.5px")]
for i, (d, med, q1, q3) in enumerate(curves):
    ax = str(i + 4)
    for name, vals, st in zip(legend_labels, [med, q1, q3], line_styles):
        fig.add_trace(go.Scatter(x=d, y=vals, mode="lines", name=name, line=st,
                                 xaxis="x" + ax, yaxis="y" + ax, showlegend=False))

layout = dict(width=W, height=H, margin=dict(l=0, r=0, t=0, b=0, autoexpand=False), paper_bgcolor="white",
              plot_bgcolor="white", bargap=0, showlegend=False, font=dict(family=SANS, color=AX_COL))

def axis_conf(col, row, is_x):
    idx = col + 1 + 3 * row
    other = ("y" if is_x else "x") + ("" if idx == 1 else str(idx))
    conf = dict(anchor=other, showgrid=True, gridcolor="#e2e2e2", gridwidth=1, zeroline=False,
                showline=True, linecolor=AX_COL, linewidth=1, mirror="ticks",
                ticks="inside", ticklen=3, tickcolor=AX_COL,
                tickfont=dict(family=SANS, size=12, color=AX_COL), fixedrange=True)
    if is_x:
        conf.update(domain=col_dom[col], range=col_range[col], tickvals=days_ticks)
    else:
        conf.update(domain=row_dom[row], range=[0, 1], tickvals=dur_ticks, ticktext=dur_ticktext)
    return conf

for row in range(2):
    for col in range(3):
        idx = col + 1 + 3 * row
        key = "" if idx == 1 else str(idx)
        layout["xaxis" + key] = axis_conf(col, row, True)
        layout["yaxis" + key] = axis_conf(col, row, False)

# legend boxes (drawn as decorations), pixel positions of each box
legend_boxes = [(162.7, 246.0, 404.0, 447.7), (446.7, 530.6, 403.5, 447.7), (732.7, 830.0, 404.0, 447.7)]
row_offsets = [8.0, 22.0, 36.5]
shapes = []
annotations = []
for (L, R, T, B) in legend_boxes:
    shapes.append(dict(type="rect", xref="paper", yref="paper", x0=px_x(L), x1=px_x(R), y0=px_y(B), y1=px_y(T),
                       fillcolor="white", line=dict(color=AX_COL, width=1), layer="above"))
    for k, lab in enumerate(legend_labels):
        yy = px_y(T + row_offsets[k])
        st = line_styles[k]
        shapes.append(dict(type="line", xref="paper", yref="paper", x0=px_x(L + 2.5), x1=px_x(L + 15.5),
                           y0=yy, y1=yy, line=dict(color=st["color"], width=st["width"], dash=st.get("dash", "solid")),
                           layer="above"))
        annotations.append(dict(text=lab, x=px_x(L + 15.0), y=yy, xref="paper", yref="paper", showarrow=False,
                                xanchor="left", yanchor="middle", font=dict(family=SANS, size=11, color="black")))

centres = [146.3, 431.2, 716.3]
for i in range(3):
    annotations.append(dict(text=captions_top[i], x=px_x(centres[i] - 13), y=px_y(244), xref="paper", yref="paper",
                            showarrow=False, xanchor="center", yanchor="middle",
                            font=dict(family=SERIF, size=22, color="black")))
    annotations.append(dict(text=captions_bottom[i], x=px_x(centres[i] - 13), y=px_y(515), xref="paper", yref="paper",
                            showarrow=False, xanchor="center", yanchor="middle",
                            font=dict(family=SERIF, size=22, color="black")))
    annotations.append(dict(text=browsers[i], x=px_x(centres[i] - 10), y=px_y(541), xref="paper", yref="paper",
                            showarrow=False, xanchor="center", yanchor="middle",
                            font=dict(family=SERIF, size=22, color="black")))
    annotations.append(dict(text="Patch delay (days)", x=px_x(centres[i]), y=px_y(475), xref="paper", yref="paper",
                            showarrow=False, xanchor="center", yanchor="middle",
                            font=dict(family=SANS, size=13, color=AX_COL)))
for yc in [93, 363]:
    annotations.append(dict(text="Vulnerability duration", x=px_x(18), y=px_y(yc), xref="paper", yref="paper",
                            showarrow=False, textangle=-90, xanchor="center", yanchor="middle",
                            font=dict(family=SANS, size=13, color=AX_COL)))
layout["annotations"] = annotations
layout["shapes"] = shapes

fig.update_layout(**layout)
fig.write_html("out.html", config={"displayModeBar": False},
               post_script="document.body.style.margin='0px';document.body.style.overflow='hidden';")
